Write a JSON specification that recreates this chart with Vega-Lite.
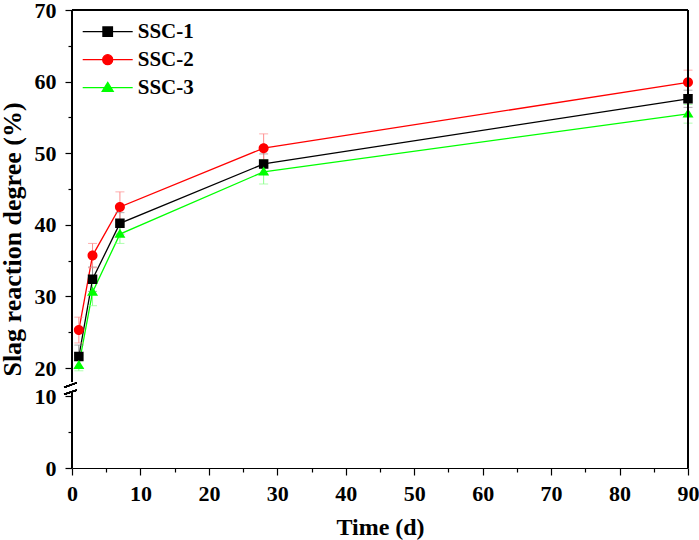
{
  "$schema": "https://vega.github.io/schema/vega-lite/v6.json",
  "width": 616,
  "height": 458,
  "autosize": "none",
  "padding": {"left": 72, "top": 10, "right": 11, "bottom": 72},
  "background": "white",
  "datasets": {
    "ssc": [
      {"series": "SSC-1", "day": 1, "value": 21.6, "lo": 20.0, "hi": 23.2},
      {"series": "SSC-1", "day": 3, "value": 32.4, "lo": 30.7, "hi": 34.1},
      {"series": "SSC-1", "day": 7, "value": 40.2, "lo": 38.7, "hi": 41.7},
      {"series": "SSC-1", "day": 28, "value": 48.5, "lo": 47.1, "hi": 49.9},
      {"series": "SSC-1", "day": 90, "value": 57.6, "lo": 56.4, "hi": 58.8},
      {"series": "SSC-2", "day": 1, "value": 25.3, "lo": 23.5, "hi": 27.1},
      {"series": "SSC-2", "day": 3, "value": 35.7, "lo": 34.0, "hi": 37.4},
      {"series": "SSC-2", "day": 7, "value": 42.5, "lo": 40.4, "hi": 44.6},
      {"series": "SSC-2", "day": 28, "value": 50.7, "lo": 48.7, "hi": 52.7},
      {"series": "SSC-2", "day": 90, "value": 59.9, "lo": 58.2, "hi": 61.6},
      {"series": "SSC-3", "day": 1, "value": 20.4, "lo": 19.0, "hi": 21.8},
      {"series": "SSC-3", "day": 3, "value": 30.6, "lo": 28.7, "hi": 32.5},
      {"series": "SSC-3", "day": 7, "value": 38.7, "lo": 37.4, "hi": 40.0},
      {"series": "SSC-3", "day": 28, "value": 47.4, "lo": 45.7, "hi": 49.1},
      {"series": "SSC-3", "day": 90, "value": 55.5, "lo": 54.2, "hi": 56.8}
    ]
  },
  "data": {"name": "ssc"},
  "layer": [
    {
      "mark": {"type": "line", "strokeWidth": 1.3},
      "encoding": {
        "x": {
          "field": "day", "type": "quantitative",
          "scale": {"domain": [0, 90], "nice": false, "zero": false},
          "axis": {
            "title": "Time (d)",
            "values": [0, 5, 10, 15, 20, 25, 30, 35, 40, 45, 50, 55, 60, 65, 70, 75, 80, 85, 90],
            "tickCount": 100,
            "format": "d",
            "labelExpr": "datum.value % 10 === 0 ? datum.label : ''",
            "tickSize": {"condition": {"test": "datum.value % 10 === 0", "value": 7}, "value": 4},
            "labelOverlap": false,
            "labelFlush": false,
            "labelPadding": 8,
            "titleFontSize": 24,
            "titlePadding": 11
          }
        },
        "y": {
          "field": "value", "type": "quantitative",
          "scale": {"domain": [0, 10, 20, 70], "range": [458, 386, 358, 0], "nice": false, "zero": false},
          "axis": {
            "title": "Slag reaction degree (%)",
            "values": [0, 5, 10, 20, 25, 30, 35, 40, 45, 50, 55, 60, 65, 70],
            "tickCount": 100,
            "format": "d",
            "labelExpr": "datum.value % 10 === 0 ? datum.label : ''",
            "tickSize": {"condition": {"test": "datum.value % 10 === 0", "value": 7}, "value": 4},
            "labelOverlap": false,
            "labelPadding": 9,
            "domain": false,
            "titleFontSize": 26,
            "titlePadding": 9
          }
        },
        "color": {
          "field": "series", "type": "nominal",
          "scale": {"domain": ["SSC-1", "SSC-2", "SSC-3"], "range": ["#000000", "#ff0000", "#00ff00"]}
        }
      }
    },
    {
      "mark": {"type": "rule", "strokeWidth": 1},
      "encoding": {
        "x": {"field": "day", "type": "quantitative"},
        "y": {"field": "lo", "type": "quantitative"},
        "y2": {"field": "hi"},
        "stroke": {
          "field": "series", "type": "nominal", "legend": null,
          "scale": {"domain": ["SSC-1", "SSC-2", "SSC-3"], "range": ["#8c8c8c", "#ff8c8c", "#8cff8c"]}
        }
      }
    },
    {
      "mark": {"type": "tick", "orient": "horizontal", "size": 9, "thickness": 1},
      "encoding": {
        "x": {"field": "day", "type": "quantitative"},
        "y": {"field": "hi", "type": "quantitative"},
        "fill": {
          "field": "series", "type": "nominal", "legend": null,
          "scale": {"domain": ["SSC-1", "SSC-2", "SSC-3"], "range": ["#8c8c8c", "#ff8c8c", "#8cff8c"]}
        }
      }
    },
    {
      "mark": {"type": "tick", "orient": "horizontal", "size": 9, "thickness": 1},
      "encoding": {
        "x": {"field": "day", "type": "quantitative"},
        "y": {"field": "lo", "type": "quantitative"},
        "fill": {"field": "series", "type": "nominal", "legend": null}
      }
    },
    {
      "mark": {"type": "point", "filled": true, "opacity": 1, "size": 2500},
      "encoding": {
        "x": {"field": "day", "type": "quantitative"},
        "y": {"field": "value", "type": "quantitative"},
        "color": {
          "field": "series", "type": "nominal",
          "legend": {
            "title": null, "orient": "none", "legendX": 9.7, "legendY": 7.7,
            "symbolSize": 2500, "clipHeight": 28, "rowPadding": 0, "padding": 0,
            "labelFont": "Liberation Serif", "labelFontWeight": "bold", "labelFontSize": 21,
            "labelColor": "black", "labelOffset": 4, "symbolStrokeWidth": 1.3, "symbolOpacity": 1
          }
        },
        "shape": {
          "field": "series", "type": "nominal",
          "scale": {
            "domain": ["SSC-1", "SSC-2", "SSC-3"],
            "range": [
              "M-1,0H1M-0.19,-0.19H0.19V0.19H-0.19Z",
              "M-1,0H1M0.2,0A0.2,0.2,0,1,1,-0.2,0A0.2,0.2,0,1,1,0.2,0Z",
              "M-1,0H1M0,-0.21L0.22,0.15H-0.22Z"
            ]
          },
          "legend": {
            "title": null, "orient": "none", "legendX": 9.7, "legendY": 7.7,
            "symbolSize": 2500, "clipHeight": 28, "rowPadding": 0, "padding": 0,
            "labelFont": "Liberation Serif", "labelFontWeight": "bold", "labelFontSize": 21,
            "labelColor": "black", "labelOffset": 4, "symbolStrokeWidth": 1.3, "symbolOpacity": 1
          }
        }
      }
    },
    {
      "mark": {"type": "rule", "color": "black", "strokeWidth": 1.2},
      "encoding": {"x": {"datum": 0}, "x2": {"datum": 90}, "y": {"datum": 70}}
    },
    {
      "mark": {"type": "rule", "color": "black", "strokeWidth": 1.2},
      "encoding": {"x": {"datum": 90}, "y": {"datum": 0}, "y2": {"datum": 70}}
    },
    {
      "mark": {"type": "rule", "color": "black", "strokeWidth": 1.2},
      "encoding": {"x": {"datum": 0}, "y": {"datum": 0}, "y2": {"datum": 11.0}}
    },
    {
      "mark": {"type": "rule", "color": "black", "strokeWidth": 1.2},
      "encoding": {"x": {"datum": 0}, "y": {"datum": 15.1}, "y2": {"datum": 70}}
    },
    {
      "mark": {"type": "rule", "color": "black", "strokeWidth": 1.2},
      "encoding": {"x": {"datum": -1.15}, "x2": {"datum": 0.7}, "y": {"datum": 13.1}, "y2": {"datum": 14.75}}
    },
    {
      "mark": {"type": "rule", "color": "black", "strokeWidth": 1.2},
      "encoding": {"x": {"datum": -1.15}, "x2": {"datum": 0.7}, "y": {"datum": 10.6}, "y2": {"datum": 12.1}}
    }
  ],
  "config": {
    "view": {"stroke": null},
    "axis": {
      "grid": false,
      "labelFont": "Liberation Serif", "labelFontWeight": "bold", "labelFontSize": 22, "labelColor": "black",
      "titleFont": "Liberation Serif", "titleFontWeight": "bold", "titleColor": "black",
      "tickColor": "black", "tickWidth": 1.2, "domainColor": "black", "domainWidth": 1.2
    }
  }
}
